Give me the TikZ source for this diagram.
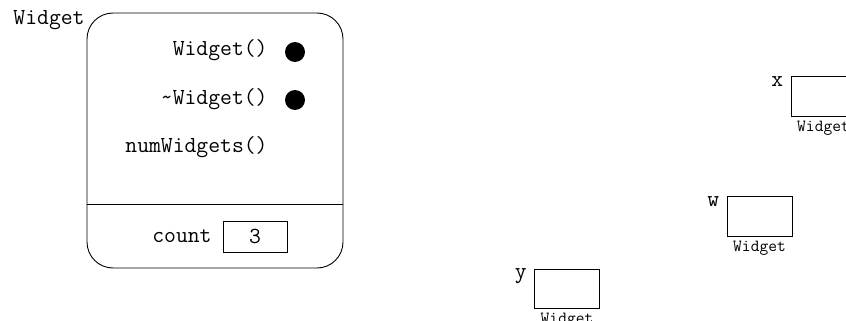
\documentclass[tikz,border=0pt]{standalone}
\usepackage{fontspec}
\usetikzlibrary{positioning}
\tikzset{
  mono/.style={font=\ttfamily\fontsize{23}{27}\selectfont, inner sep=0pt},
  tiny/.style={font=\ttfamily\fontsize{17}{20}\selectfont, inner sep=0pt},
  objbox/.style={draw, minimum width=65pt, minimum height=40pt, inner sep=0pt},
  dot/.style={circle, fill, minimum size=20pt, inner sep=0pt},
}
\begin{document}
\begin{tikzpicture}[x=1pt,y=-1pt,line width=0.9pt]
			\clip (0,0) rectangle (846,321);
			% class box
			\node[draw, rounded corners=26pt, minimum width=256pt, minimum height=255pt] (cls) at (215,140.5) {};
			\node[mono, anchor=east] (clsname) at (85,20) {Widget};
			\node[mono, anchor=east] (ctor) at (268,50) {Widget()};
			\node[mono, anchor=east] (dtor) at (268,99) {\textasciitilde Widget()};
			\node[mono, anchor=east] (num) at (268,147) {numWidgets()};
			\node[dot] (ctordot) at (295,52) {};
			\node[dot] (dtordot) at (295,100) {};
			\coordinate (div) at (0,204);
			\draw (cls.west |- div) -- (cls.east |- div);
			\node[mono, anchor=east] (cnt) at (212,236) {count};
			\node[draw, minimum width=64pt, minimum height=31pt, mono] (cval) at (255,236.5) {3};
			% objects
			\node[objbox] (xobj) at (823.5,96.5) {};
			\node[objbox] (wobj) at (759.5,216.5) {};
			\node[objbox, minimum height=39pt] (yobj) at (567,288.5) {};
			\node[mono, left=7pt of xobj.north west, anchor=north east] (xname) {x};
			\node[mono, left=7pt of wobj.north west, anchor=north east] (wname) {w};
			\node[mono, left=7pt of yobj.north west, anchor=north east] (yname) {y};
			\node[tiny, below=4pt of xobj] (xtype) {Widget};
			\node[tiny, below=4pt of wobj] (wtype) {Widget};
			\node[tiny, below=4pt of yobj] (ytype) {Widget};
\end{tikzpicture}
\end{document}
